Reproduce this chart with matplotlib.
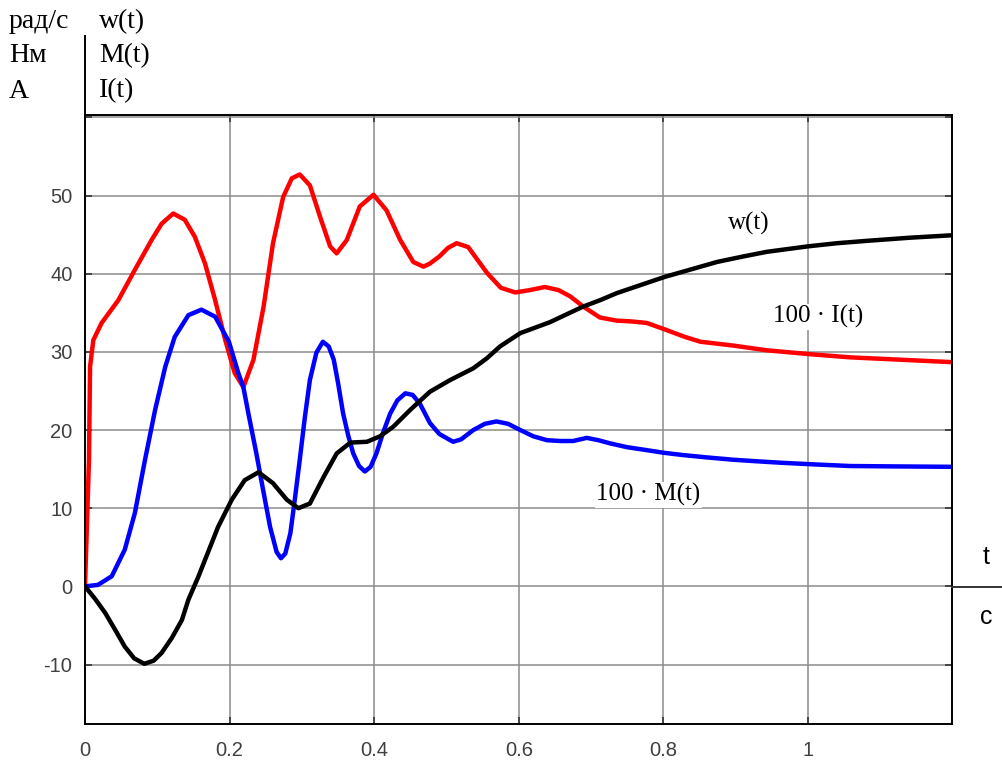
import matplotlib
matplotlib.use('Agg')
import matplotlib.pyplot as plt

plt.rcParams['axes.unicode_minus'] = False

# values
t_w = [0, 0.014, 0.028, 0.042, 0.055, 0.068, 0.082, 0.095, 0.106, 0.120, 0.134, 0.143, 0.157,
       0.166, 0.184, 0.203, 0.221, 0.240, 0.260, 0.279, 0.295, 0.311, 0.330, 0.348, 0.367,
       0.390, 0.408, 0.426, 0.450, 0.477, 0.505, 0.537, 0.556, 0.574, 0.602, 0.643, 0.689,
       0.712, 0.735, 0.770, 0.802, 0.840, 0.874, 0.910, 0.943, 1.0, 1.040, 1.081, 1.140, 1.196]
w = [0, -1.6, -3.4, -5.6, -7.7, -9.2, -9.9, -9.5, -8.5, -6.6, -4.3, -1.7, 1.3,
     3.4, 7.6, 11.1, 13.6, 14.6, 13.2, 11.1, 10.0, 10.6, 14.0, 17.0, 18.4,
     18.5, 19.2, 20.4, 22.6, 24.9, 26.4, 27.9, 29.2, 30.7, 32.4, 33.8, 35.8,
     36.6, 37.5, 38.6, 39.6, 40.6, 41.5, 42.2, 42.8, 43.5, 43.9, 44.2, 44.6, 44.9]

t_m = [0, 0.018, 0.037, 0.055, 0.069, 0.083, 0.097, 0.111, 0.124, 0.143, 0.161, 0.180, 0.199,
       0.212, 0.219, 0.226, 0.237, 0.247, 0.256, 0.265, 0.271, 0.277, 0.284, 0.290, 0.297,
       0.304, 0.311, 0.320, 0.329, 0.337, 0.344, 0.350, 0.357, 0.364, 0.371, 0.379, 0.387,
       0.395, 0.403, 0.412, 0.422, 0.432, 0.443, 0.453, 0.463, 0.477, 0.490, 0.509, 0.520,
       0.537, 0.553, 0.569, 0.585, 0.602, 0.620, 0.639, 0.657, 0.675, 0.694, 0.710, 0.726,
       0.750, 0.772, 0.800, 0.827, 0.860, 0.897, 0.930, 0.966, 1.010, 1.058, 1.120, 1.196]
m = [0, 0.2, 1.3, 4.7, 9.4, 16.2, 22.6, 28.1, 31.9, 34.7, 35.4, 34.5, 31.3,
     27.3, 25.5, 22.1, 17.0, 12.0, 7.6, 4.4, 3.6, 4.2, 6.8, 11.0, 16.2,
     21.6, 26.4, 29.9, 31.3, 30.7, 29.0, 26.0, 22.1, 19.3, 17.0, 15.4, 14.7,
     15.3, 17.0, 19.6, 22.1, 23.8, 24.7, 24.5, 23.4, 20.9, 19.5, 18.5, 18.8,
     20.0, 20.8, 21.1, 20.8, 20.0, 19.2, 18.7, 18.6, 18.6, 19.0, 18.7, 18.3,
     17.8, 17.5, 17.1, 16.8, 16.5, 16.2, 16.0, 15.8, 15.6, 15.4, 15.35, 15.3]

t_i = [0, 0.0055, 0.007, 0.0115, 0.023, 0.046, 0.069, 0.092, 0.106, 0.122, 0.138, 0.152, 0.166,
       0.180, 0.194, 0.207, 0.219, 0.233, 0.247, 0.260, 0.274, 0.286, 0.297, 0.311, 0.325,
       0.339, 0.348, 0.362, 0.380, 0.399, 0.417, 0.436, 0.454, 0.468, 0.477, 0.490, 0.502,
       0.514, 0.530, 0.556, 0.575, 0.595, 0.615, 0.636, 0.655, 0.671, 0.689, 0.712, 0.735,
       0.755, 0.777, 0.804, 0.830, 0.851, 0.897, 0.943, 1.003, 1.058, 1.127, 1.196]
i_cur = [0, 16.2, 28.1, 31.5, 33.7, 36.6, 40.5, 44.3, 46.4, 47.7, 46.9, 44.7, 41.3,
         36.6, 31.5, 27.3, 25.5, 29.0, 35.8, 43.9, 49.8, 52.2, 52.7, 51.3, 47.3,
         43.5, 42.6, 44.3, 48.6, 50.1, 48.1, 44.3, 41.5, 40.9, 41.3, 42.2, 43.3,
         43.9, 43.4, 40.1, 38.2, 37.6, 37.9, 38.3, 37.9, 37.1, 35.8, 34.4, 34.0,
         33.9, 33.7, 32.8, 31.9, 31.3, 30.8, 30.2, 29.7, 29.3, 29.0, 28.7]

x_ticks = [0, 0.2, 0.4, 0.6, 0.8, 1.0]
x_labels = ['0', '0.2', '0.4', '0.6', '0.8', '1']
y_ticks = [-10, 0, 10, 20, 30, 40, 50, 60]
y_labels = ['-10', '0', '10', '20', '30', '40', '50', '']

W, H = 1003, 761
fig = plt.figure(figsize=(W / 100, H / 100), dpi=100)
ax = fig.add_axes([85 / W, 1 - 724 / H, (952 - 85) / W, (724 - 115) / H])

ax.plot(t_i, i_cur, color='#ff0000', linewidth=3.2, solid_joinstyle='round')
ax.plot(t_m, m, color='#0000ff', linewidth=3.2, solid_joinstyle='round')
ax.plot(t_w, w, color='black', linewidth=3.2, solid_joinstyle='round')

ax.set_xlim(0, 1.199)
ax.set_ylim(-17.6, 60.3)
ax.set_xticks(x_ticks)
ax.set_xticklabels(x_labels)
ax.set_yticks(y_ticks)
ax.set_yticklabels(y_labels)
ax.grid(True, color='#8c8c8c', linewidth=1.1)
ax.set_axisbelow(True)
ax.tick_params(direction='in', length=5, width=1.2, color='#333333', labelcolor='#404040',
               labelsize=14.5, top=True, right=True)
ax.tick_params(axis='y', pad=9)
ax.tick_params(axis='x', pad=12)
for lbl in ax.get_xticklabels() + ax.get_yticklabels():
    lbl.set_family('Liberation Sans')
for sp in ax.spines.values():
    sp.set_color('black')
    sp.set_linewidth(1.4)

serif = 'Liberation Serif'
box = dict(facecolor='white', edgecolor='none', pad=1)
ax.text(0.918, 46.4, 'w(t)', fontsize=18, family=serif, ha='center', va='center', bbox=box)
ax.text(1.014, 34.5, '100 · I(t)', fontsize=18, family=serif, ha='center', va='center', bbox=box)
ax.text(0.779, 11.7, '100 · M(t)', fontsize=18, family=serif, ha='center', va='center', bbox=box)

# unit / name block top left
def px(x, y):
    return x / W, 1 - y / H

for y, unit, name in [(22, 'рад/с', 'w(t)'), (56, 'Нм', 'M(t)'), (91, 'А', 'I(t)')]:
    fig.text(*px(9, y), unit, fontsize=20, family=serif, ha='left', va='center')
    fig.text(*px(99, y), name, fontsize=20, family=serif, ha='left', va='center')
fig.add_artist(plt.Line2D([85 / W, 85 / W], [1 - 36 / H, 1 - 113 / H], color='black', linewidth=1.4))

# t / c at the right end of the zero line
fig.add_artist(plt.Line2D([952 / W, 1.0], [1 - 587 / H, 1 - 587 / H], color='#333333', linewidth=1.4))
fig.text(*px(986, 557), 't', fontsize=18, family='Liberation Sans', ha='center', va='center')
fig.text(*px(986, 617), 'c', fontsize=18, family='Liberation Sans', ha='center', va='center')

fig.savefig('out.png', dpi=100)
